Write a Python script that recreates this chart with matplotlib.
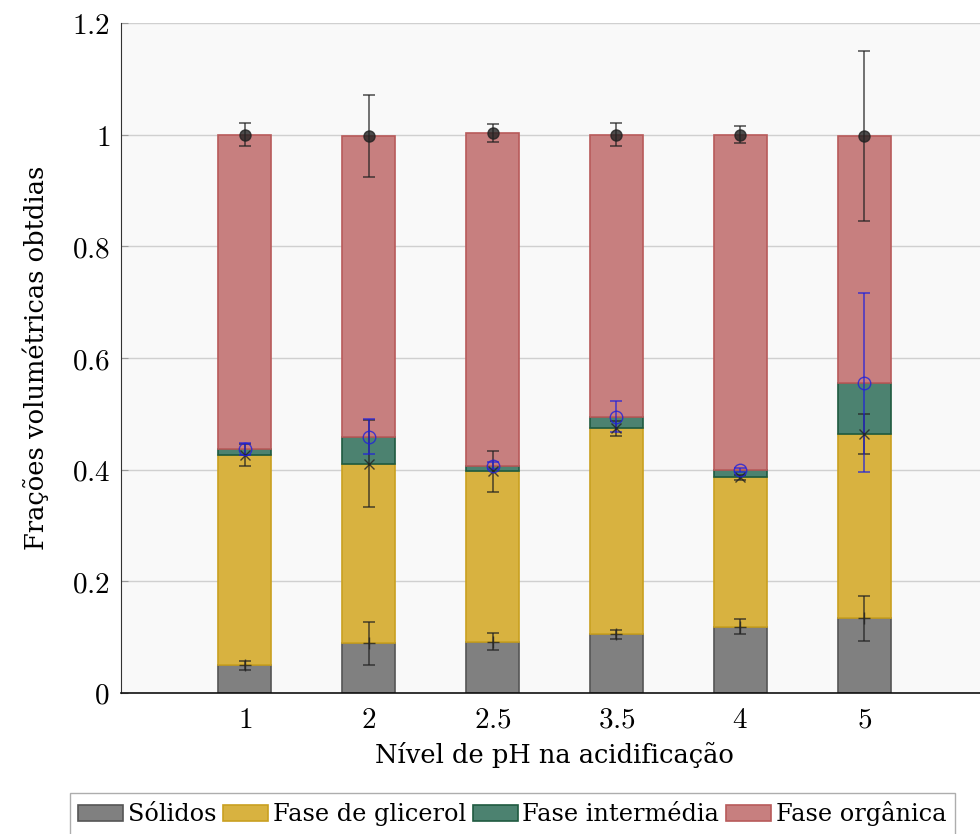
"""Stacked volumetric fractions per acidification pH level."""

import matplotlib
matplotlib.use("Agg")
import matplotlib.pyplot as plt
import numpy as np
from matplotlib.patches import Patch
from matplotlib.ticker import FixedLocator, FuncFormatter

# pH levels (categorical)
ph_levels = ["1", "2", "2.5", "3.5", "4", "5"]

# mean volumetric fraction of each phase
solidos = [0.050, 0.089, 0.092, 0.105, 0.119, 0.134]
glicerol = [0.376, 0.322, 0.305, 0.369, 0.267, 0.330]
intermedia = [0.011, 0.048, 0.010, 0.021, 0.013, 0.092]
organica = [0.563, 0.539, 0.596, 0.505, 0.601, 0.442]

# standard deviation of the cumulative fraction at the top of each phase
err_solidos = [0.008, 0.038, 0.015, 0.008, 0.014, 0.040]
err_glicerol = [0.020, 0.078, 0.037, 0.014, 0.004, 0.036]
err_intermedia = [0.010, 0.031, 0.006, 0.028, 0.004, 0.161]
err_organica = [0.021, 0.073, 0.017, 0.021, 0.015, 0.152]

phases = [
    ("Sólidos", solidos, err_solidos, "#808080", "#555555"),
    ("Fase de glicerol", glicerol, err_glicerol, "#d8b240", "#c9a020"),
    ("Fase intermédia", intermedia, err_intermedia, "#4c8270", "#1f5a40"),
    ("Fase orgânica", organica, err_organica, "#c77f7f", "#b85a5a"),
]
# markers for the error bars at the top of each segment
err_styles = [
    dict(fmt="+", color="#222222", ms=8),
    dict(fmt="x", color="#222222", ms=7),
    dict(fmt="o", color="#2020dd", ms=9, mfc="none"),
    dict(fmt="o", color="#222222", ms=8),
]

plt.rcParams["font.family"] = ["DejaVu Serif"]
plt.rcParams["mathtext.fontset"] = "cm"

fig = plt.figure(figsize=(9.8, 8.34), dpi=100)
ax = fig.add_axes([121 / 980, 141 / 834, 867 / 980, 670 / 834])
ax.set_facecolor("#f9f9f9")

x = np.arange(1, len(ph_levels) + 1)
width = 0.43
bottom = np.zeros(len(ph_levels))
handles = []
for (label, vals, errs, fc, ec), style in zip(phases, err_styles):
    vals = np.asarray(vals)
    ax.bar(x, vals, width, bottom=bottom, color=fc, edgecolor=ec,
           linewidth=1.2, zorder=2)
    top = bottom + vals
    ax.errorbar(x, top, yerr=errs, capsize=4, elinewidth=1.1,
                capthick=1.1, alpha=0.8, zorder=3, **style)
    bottom = top
    handles.append(Patch(facecolor=fc, edgecolor=ec, linewidth=1.2, label=label))

ax.set_xlim(0, 7)
ax.set_ylim(0, 1.2)
ax.set_xticks(x)
ax.set_xticklabels([f"${p}$" for p in ph_levels])
ax.yaxis.set_major_locator(FixedLocator([0, 0.2, 0.4, 0.6, 0.8, 1.0, 1.2]))
ax.yaxis.set_major_formatter(FuncFormatter(lambda v, _: f"${v:g}$"))
ax.grid(axis="y", color="#d0d0d0", linewidth=1.0, zorder=0)
ax.set_axisbelow(True)
ax.tick_params(axis="both", labelsize=21, direction="in", length=5,
               color="#999999")
ax.tick_params(axis="y", pad=8)
ax.tick_params(axis="x", length=0, pad=9)
for side in ("top", "right"):
    ax.spines[side].set_visible(False)
ax.spines["left"].set_color("#333333")
ax.spines["bottom"].set_color("#111111")
ax.spines["bottom"].set_linewidth(1.2)

ax.set_xlabel("Nível de pH na acidificação", fontsize=18.5, labelpad=6)
ax.set_ylabel("Frações volumétricas obtdias", fontsize=18.5, labelpad=16)

ax.legend(handles=handles, loc="upper left", bbox_to_anchor=(-0.0588, -0.149),
          borderaxespad=0, ncol=4, fontsize=17.3, frameon=True, fancybox=False,
          edgecolor="#999999", handlelength=1.85, handleheight=0.65,
          handletextpad=0.2, columnspacing=0.3, borderpad=0.35)

fig.savefig("out.png", dpi=100)
